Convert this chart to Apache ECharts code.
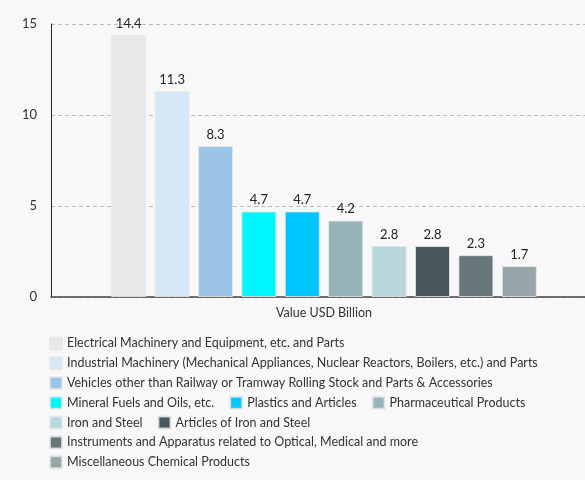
<!DOCTYPE html>
<html>
<head>
<meta charset="utf-8">
<script src="https://cdn.jsdelivr.net/npm/echarts@6/dist/echarts.min.js"></script>
<style>
    html, body { margin: 0; padding: 0; background: #f8f8f8; }
    #chart { width: 585px; height: 480px; }
</style>
</head>
<body>
<div id="chart"></div>
<script>
// Data
const categories = ['Value USD Billion'];

const seriesNames = [
    'Electrical Machinery and Equipment, etc. and Parts',
    'Industrial Machinery (Mechanical Appliances, Nuclear Reactors, Boilers, etc.) and Parts',
    'Vehicles other than Railway or Tramway Rolling Stock and Parts & Accessories',
    'Mineral Fuels and Oils, etc.',
    'Plastics and Articles',
    'Pharmaceutical Products',
    'Iron and Steel',
    'Articles of Iron and Steel',
    'Instruments and Apparatus related to Optical, Medical and more',
    'Miscellaneous Chemical Products'
];

const seriesValues = [14.4, 11.3, 8.3, 4.7, 4.7, 4.2, 2.8, 2.8, 2.3, 1.7];

const seriesColors = [
    '#e8e8e8', '#d6e7f7', '#9bc4e6', '#00f7ff', '#00c6ff',
    '#96b3b8', '#b8d8de', '#48575c', '#677779', '#98a5a8'
];

const yTicks = [0, 5, 10, 15];

// Chart
const chartElement = document.getElementById('chart');
const chart = echarts.init(chartElement);

const options = {
    backgroundColor: '#f8f8f8',
    animation: false,
    textStyle: {
        fontFamily: 'Lato'
    },
    color: seriesColors,
    legend: {
        left: 44,
        top: 331,
        width: 535,
        itemWidth: 12,
        itemHeight: 12,
        itemGap: 5,
        icon: 'rect',
        textStyle: {
            fontSize: 12.5,
            color: '#333',
            lineHeight: 14.8,
            padding: [0, 10, 0, 0]
        },
        data: seriesNames
    },
    grid: {
        left: 51,
        right: -12,
        top: 24,
        height: 273,
        outerBoundsMode: 'none',
        containLabel: false
    },
    xAxis: {
        type: 'category',
        data: categories,
        axisTick: { show: false },
        axisLine: {
            lineStyle: { color: '#444', width: 1.5 }
        },
        axisLabel: {
            color: '#333',
            fontSize: 12.5,
            margin: 9
        }
    },
    yAxis: {
        type: 'value',
        min: yTicks[0],
        max: yTicks[yTicks.length - 1],
        interval: 5,
        axisLine: {
            show: true,
            lineStyle: { color: '#222', width: 1 }
        },
        axisTick: { show: false },
        axisLabel: {
            color: '#333',
            fontSize: 13,
            margin: 14
        },
        splitLine: {
            lineStyle: { color: '#bbb', type: [4, 3] }
        }
    },
    series: seriesNames.map((name, i) => {
        return {
            name: name,
            type: 'bar',
            data: [seriesValues[i]],
            barWidth: 35,
            barGap: '24%',
            itemStyle: {
                borderColor: 'rgba(230,230,230,0.8)',
                borderWidth: 1
            },
            label: {
                show: true,
                position: 'top',
                color: '#222',
                fontSize: 13,
                distance: 5
            }
        }
    })
};

chart.setOption(options);
</script>
</body>
</html>
